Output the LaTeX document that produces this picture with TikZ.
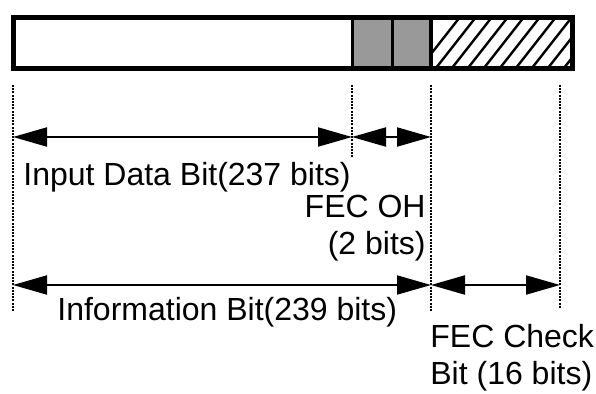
\documentclass[tikz,border=0pt]{standalone}
\usepackage{fontspec}
\setmainfont{Liberation Sans}
\usetikzlibrary{arrows.meta}

\begin{document}
\begin{tikzpicture}[x=0.5pt,y=-0.5pt,
  font=\fontsize{16}{18.5}\selectfont,
  lbl/.style={inner sep=0pt},
  guide/.style={line width=1pt,dash pattern=on 1pt off 0.6pt},
  dim/.style={{Triangle[length=17pt,width=9.5pt]}-{Triangle[length=17pt,width=9.5pt]},
              line width=1pt}]
\useasboundingbox (0,0) rectangle (596,393);

% frame bar
\fill[black!40] (352,17) rectangle (431,68);
\begin{scope}
  \clip (431,17) rectangle (572,68);
  \foreach \x in {420,436,...,580}
    \draw[line width=1.2pt] (\x,68) -- ++(40,-51);
\end{scope}
\draw[line width=1.5pt] (352,17) -- (352,68);
\draw[line width=1.5pt] (392,17) -- (392,68);
\draw[line width=2pt] (431,17) -- (431,68);
\draw[line width=2.5pt] (13,17) rectangle (572,68);

% column marks
\coordinate (c0) at (13,0);
\coordinate (c1) at (352,0);
\coordinate (c2) at (431,0);
\coordinate (c3) at (560,0);

\draw[guide] (13,85) -- (13,312);
\draw[guide] (352,85) -- (352,157);
\draw[guide] (431,85) -- (431,312);
\draw[guide] (560,85) -- (560,308);

\coordinate (in0) at (c0 |- 0,137);
\coordinate (in1) at (c1 |- 0,137);
\coordinate (oh1) at (c2 |- 0,137);
\coordinate (if0) at (c0 |- 0,285);
\coordinate (if1) at (c2 |- 0,285);
\coordinate (ck1) at (c3 |- 0,285);

\draw[dim] (in0) -- (in1);
\draw[dim] (in1) -- (oh1);
\draw[dim] (if0) -- (if1);
\draw[dim] (if1) -- (ck1);

% labels
\node[lbl,anchor=base west] (tin) at (23,185) {Input Data Bit(237 bits)};
\node[lbl,anchor=north east,align=right] (toh) at (426,195) {FEC OH\\(2 bits)};
\node[lbl,anchor=base west] (tif) at (57,320) {Information Bit(239 bits)};
\node[lbl,anchor=north west,align=left] (tck) at (430,324) {FEC Check\\Bit (16 bits)};
\end{tikzpicture}
\end{document}
